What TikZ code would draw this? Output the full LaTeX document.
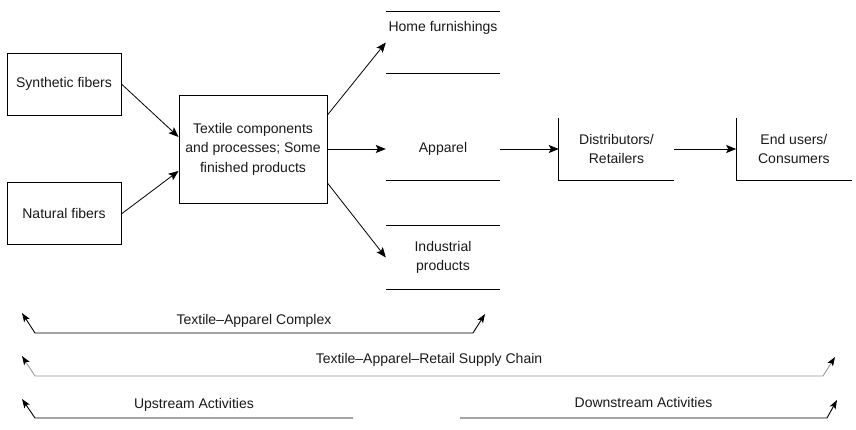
\documentclass[tikz,border=0pt]{standalone}
\usepackage{fontspec}
\setmainfont{Liberation Sans}
\usepackage{tikz}
\usetikzlibrary{arrows.meta, positioning, calc}

\begin{document}
\begin{tikzpicture}[
  x=1pt, y=-1pt,
  font=\fontsize{14}{19.5}\selectfont,
  box/.style={draw, line width=0.9pt, rectangle, align=center, minimum width=114pt, minimum height=62pt, inner sep=0pt, text=black!90},
  panel/.style={rectangle, align=center, minimum width=114pt, inner sep=0pt, text=black!90},
  lbl/.style={text=black!90, anchor=base},
  arrow/.style={-{Stealth[length=10pt,width=8pt,inset=2pt]}, line width=0.8pt},
  spantip/.tip={Stealth[length=9pt,width=6.5pt,inset=2pt,color=black]},
  span/.style={line width=0.9pt}
]
\useasboundingbox (0,0) rectangle (856,430);

% fibres and textile stage
\node[box] (synth) at (64,84) {Synthetic fibers};
\node[box] (natural) [below=67pt of synth] {Natural fibers};
\node[box, minimum width=148pt, minimum height=108pt] (textile) at (253,149) {Textile components\\and processes; Some\\finished products};

% end products
\node[panel, text height=20pt, text depth=41pt] (home) at (443,42.5) {Home furnishings};
\node[panel, minimum height=62pt] (apparel) at (443,149) {Apparel};
\node[panel, minimum height=63pt] (indus) at (443,257.5) {Industrial\\products};
\draw[line width=0.9pt] (home.north west) -- (home.north east)
  (home.south west) -- (home.south east)
  (apparel.south west) -- (apparel.south east)
  (indus.north west) -- (indus.north east)
  (indus.south west) -- (indus.south east);

% retail side
\node[panel, minimum width=115pt, minimum height=62pt] (dist) at (616.5,149) {Distributors/\\Retailers};
\node[panel, minimum width=115pt, minimum height=62pt] (endu) [right=62pt of dist] {End users/\\Consumers};
\draw[line width=0.9pt] (dist.north west) -- (dist.south west) -- (dist.south east);
\draw[line width=0.9pt] (endu.north west) -- (endu.south west) -- (endu.south east);

\draw[arrow] (synth.east) -- ([yshift=12pt]textile.west);
\draw[arrow] (natural.east) -- ([yshift=-22pt]textile.west);
\draw[arrow] ([yshift=34pt]textile.east) -- (home.west);
\draw[arrow] (textile.east) -- (apparel.west);
\draw[arrow] ([yshift=-34pt]textile.east) -- (indus.west);
\draw[arrow] (apparel.east) -- (dist.west);
\draw[arrow] (dist.east) -- (endu.west);

% spans underneath
\coordinate (cplxA) at (35,333);
\coordinate (cplxB) at (473,333);
\coordinate (chainA) at (35,376);
\coordinate (chainB) at (823,376);
\coordinate (upA) at (35,418);
\coordinate (upB) at (353,418);
\coordinate (downA) at (460,418);
\coordinate (downB) at (827,418);

\draw[span, spantip-spantip] ($(cplxA)+(-13,-20)$) -- (cplxA) -- node[lbl, yshift=9pt] {Textile\textendash Apparel Complex} (cplxB) -- ($(cplxB)+(12,-19)$);
\draw[span, draw=black!40, spantip-spantip] ($(chainA)+(-13,-20)$) -- (chainA) -- node[lbl, yshift=13pt] {Textile\textendash Apparel\textendash Retail Supply Chain} (chainB) -- ($(chainB)+(12,-19)$);
\draw[span, spantip-] ($(upA)+(-13,-19)$) -- (upA) -- node[lbl, yshift=10pt] {Upstream Activities} (upB);
\draw[span, -spantip] (downA) -- node[lbl, yshift=11pt] {Downstream Activities} (downB) -- ($(downB)+(10,-18)$);
\end{tikzpicture}
\end{document}
